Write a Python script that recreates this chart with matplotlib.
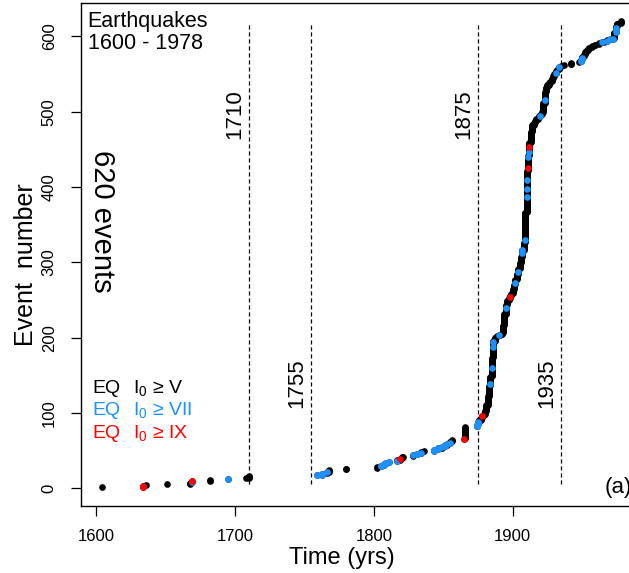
import numpy as np
import matplotlib
matplotlib.use("Agg")
import matplotlib.pyplot as plt

plt.rcParams["font.family"] = ["Liberation Sans", "DejaVu Sans"]
plt.rcParams["mathtext.fontset"] = "custom"
plt.rcParams["mathtext.rm"] = "Liberation Sans"
plt.rcParams["mathtext.it"] = "Liberation Sans:italic"

# number of catalogued earthquakes per year (1600 - 1978)
years = [1604, 1634, 1636, 1651, 1668, 1669, 1682, 1695, 1708, 1710,
         1759, 1763, 1766, 1768, 1780, 1802, 1805, 1807, 1809, 1811,
         1817, 1819, 1820, 1821, 1828, 1831, 1834, 1836, 1843, 1846,
         1849, 1851, 1853, 1855, 1856, 1865, 1866, 1874, 1875, 1876,
         1877, 1878, 1879, 1880, 1881, 1882, 1883, 1884, 1885, 1886,
         1887, 1888, 1889, 1890, 1891, 1892, 1893, 1894, 1895, 1896,
         1897, 1898, 1899, 1900, 1901, 1902, 1903, 1904, 1905, 1906,
         1907, 1908, 1909, 1910, 1911, 1912, 1913, 1914, 1915, 1916,
         1917, 1918, 1919, 1920, 1921, 1922, 1923, 1924, 1925, 1926,
         1927, 1928, 1929, 1930, 1931, 1932, 1933, 1934, 1935, 1937,
         1942, 1948, 1949, 1950, 1951, 1952, 1953, 1954, 1955, 1957,
         1959, 1962, 1964, 1966, 1968, 1970, 1972, 1973, 1974, 1975,
         1978]
counts = [1, 2, 1, 1, 2, 2, 2, 1, 1, 3,
          1, 2, 2, 3, 2, 2, 2, 2, 2, 1,
          2, 2, 2, 1, 2, 2, 2, 1, 2, 2,
          2, 2, 2, 3, 2, 1, 16, 3, 4, 2,
          3, 3, 2, 4, 8, 12, 14, 12, 25, 22,
          5, 1, 1, 1, 1, 2, 10, 15, 12, 6,
          3, 3, 3, 6, 6, 7, 7, 7, 8, 8,
          9, 10, 40, 55, 20, 18, 14, 9, 3, 3,
          2, 2, 2, 2, 3, 12, 15, 6, 3, 3,
          2, 4, 3, 3, 4, 2, 3, 1, 1, 1,
          3, 1, 3, 4, 3, 3, 2, 2, 2, 2,
          2, 2, 1, 1, 2, 1, 1, 8, 8, 4,
          3]

# event numbers with intensity >= VII and >= IX
blue_events = [8, 12, 17, 18, 19, 21, 29, 30, 31, 32, 33, 34, 35, 36,
               44, 45, 46, 47, 50, 51, 52, 53, 55, 56, 57, 59, 60,
               82, 83, 84, 85, 86, 87, 88, 139, 160, 187, 194, 203, 239,
               272, 287, 313, 316, 330, 387, 398, 409, 440, 446, 495,
               516, 552, 559, 567, 568, 570, 571, 592, 594, 596, 597,
               606, 608, 611]
red_events = [2, 3, 9, 39, 65, 96, 254, 425, 453]

# reference years marked with dashed lines
mark_years = [1710, 1755, 1875, 1935]
mark_label_y = [497, 140, 497, 140]

BLUE = "#1E90FF"
RED = "#FF0000"

ev_year = np.repeat(years, counts)
ev_num = np.arange(1, len(ev_year) + 1)
blue_idx = np.array(blue_events) - 1
red_idx = np.array(red_events) - 1

fig = plt.figure(figsize=(6.29, 5.73), dpi=100)
ax = fig.add_axes([0.1283, 0.1178, 0.8922, 0.8764])
ax.set_xlim(1589, 1993)
ax.set_ylim(-23, 644)

for yr, ly in zip(mark_years, mark_label_y):
    ax.vlines(yr, 6, 617, colors="black", linewidth=0.9,
              linestyles=(0, (3.3, 2.3)), zorder=1)
    ax.text(yr - 2.8, ly, str(yr), rotation=90, ha="right", va="center",
            fontsize=16)

ax.plot(ev_year, ev_num, "o", color="black", ms=4.8, mew=0, zorder=2)
ax.plot(ev_year[blue_idx], ev_num[blue_idx], "o", color=BLUE, ms=4.8,
        mew=0, zorder=3)
ax.plot(ev_year[red_idx], ev_num[red_idx], "o", color=RED, ms=4.8,
        mew=0, zorder=4)

ax.text(1594, 634, "Earthquakes\n1600 - 1978", ha="left", va="top",
        fontsize=15.5, linespacing=1.05)
ax.text(1604.5, 355, "620 events", rotation=270, ha="center", va="center",
        fontsize=21)
ax.text(1966.5, 1, "(a)", ha="left", va="center", fontsize=16)

legend_rows = [("V", "black", 127), ("VII", BLUE, 97), ("IX", RED, 66)]
for lvl, col, ly in legend_rows:
    ax.text(1597.3, ly, "EQ", color=col, fontsize=14, va="baseline")
    ax.text(1626.6, ly, r"I$_\mathregular{0}$" + " \u2265 " + lvl, color=col,
            fontsize=14, va="baseline")

ax.set_xticks([1600, 1700, 1800, 1900])
ax.set_yticks([0, 100, 200, 300, 400, 500, 600])
ax.tick_params(direction="out", length=7.2, width=0.9, labelsize=12)
ax.tick_params(axis="x", pad=10)
ax.tick_params(axis="y", pad=10, labelrotation=90)
for lbl in ax.get_yticklabels():
    lbl.set_va("center")

for side in ["left", "bottom", "top"]:
    ax.spines[side].set_linewidth(1.0)
ax.spines["right"].set_visible(False)

ax.set_xlabel("Time (yrs)", fontsize=17)
ax.xaxis.set_label_coords(0.4656, -0.0826)
ax.set_ylabel("Event  number", fontsize=18)
ax.yaxis.set_label_coords(-0.076, 0.48)

fig.savefig("out.png", dpi=100)
